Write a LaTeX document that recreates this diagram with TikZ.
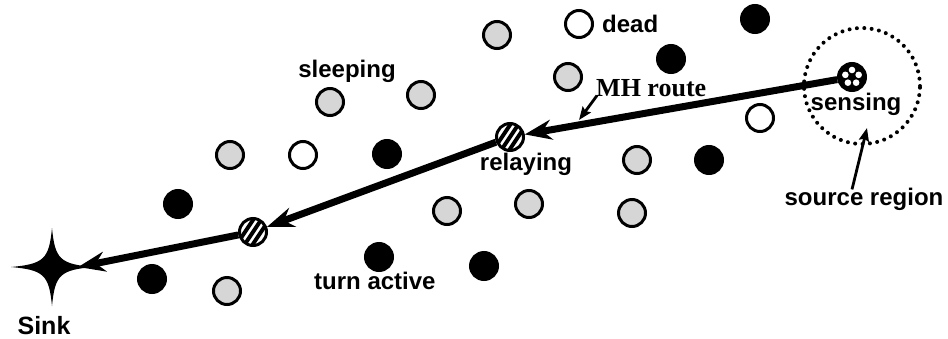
\documentclass[tikz,border=0pt]{standalone}
\usepackage{fontspec}
\setmainfont{Liberation Sans}
\newfontfamily\mhserif{Liberation Serif}
\usetikzlibrary{arrows.meta}
\begin{document}
\begin{tikzpicture}[x=1pt,y=-1pt,
  sensor/.style={circle,draw=black,line width=3pt,minimum size=27pt,inner sep=0pt},
  sleepnode/.style={sensor,fill=black!16},
  activenode/.style={sensor,fill=black},
  deadnode/.style={sensor,fill=white},
  relaynode/.style={sensor,fill=white,path picture={
      \foreach \d in {-8,0,8}
        \draw[line width=4pt,shift={(path picture bounding box.center)}]
          (\d-12,18) -- (\d+12,-18);}},
  sensenode/.style={sensor,fill=black,path picture={
      \foreach \a in {-90,-18,54,126,198}
        \fill[white,shift={(path picture bounding box.center)}] (\a:7) circle (3.3);}},
  lbl/.style={font=\bfseries\fontsize{24}{28}\selectfont,inner sep=0pt},
  route/.style={line width=7pt,-{Stealth[length=27pt,width=20pt,inset=9pt]}},
  pointer/.style={line width=2.8pt,-{Stealth[length=13pt,width=10pt,inset=2pt]}},
  region/.style={circle,draw=black,line width=4pt,dash pattern=on 0pt off 7.4pt,
      line cap=round,minimum size=116pt,inner sep=0pt}
]
\useasboundingbox (0,0) rectangle (948,338);

% source region around the sensing node
\node[region] (reg) at (862,86) {};

% sleeping nodes
\node[sleepnode] (s1) at (497,35) {};
\node[sleepnode] (s2) at (568,77) {};
\node[sleepnode] (s3) at (421,95) {};
\node[sleepnode] (s4) at (330,102) {};
\node[sleepnode] (s5) at (230,155) {};
\node[sleepnode] (s6) at (447,211) {};
\node[sleepnode] (s7) at (529,204) {};
\node[sleepnode] (s8) at (632,213) {};
\node[sleepnode] (s9) at (637,160) {};
\node[sleepnode] (s10) at (227,291) {};

% nodes turning active
\node[activenode] (a1) at (755,19) {};
\node[activenode] (a2) at (671,59) {};
\node[activenode] (a3) at (387,154) {};
\node[activenode] (a4) at (709,160) {};
\node[activenode] (a5) at (178,204) {};
\node[activenode] (a6) at (152,279) {};
\node[activenode] (a7) at (379,257) {};
\node[activenode] (a8) at (484,266) {};

% dead nodes
\node[deadnode] (d1) at (579,24) {};
\node[deadnode] (d2) at (303,155) {};
\node[deadnode] (d3) at (760,118) {};

% sensing and relaying nodes
\node[sensenode] (sense) at (852,77) {};
\node[relaynode] (relay1) at (510,137) {};
\node[relaynode] (relay2) at (253,232) {};

% sink
\node[minimum width=52pt,minimum height=4pt,inner sep=0pt] (sink) at (52,267) {};
\begin{scope}[shift={(sink.center)}]
  \fill (0,-39) .. controls (3,-8) and (8,-3) .. (41,0)
        .. controls (8,3) and (3,8) .. (0,39)
        .. controls (-3,8) and (-8,3) .. (-41,0)
        .. controls (-8,-3) and (-3,-8) .. (0,-39) -- cycle;
\end{scope}

% multi-hop route
\draw[route] (sense) -- (relay1);
\draw[route] (relay1) -- (relay2);
\draw[route] (relay2) -- (sink.east);

% labels
\node[lbl,anchor=base west] (deadlbl) at (602,32) {dead};
\node[lbl,anchor=base] (sleeplbl) at (347,77) {sleeping};
\node[font=\mhserif\bfseries\fontsize{26}{30}\selectfont,inner sep=0pt,anchor=base west] (mh) at (596,96) {MH route};
\node[lbl,anchor=base] (relaylbl) at (526,170) {relaying};
\node[lbl,anchor=base] (senselbl) at (856,110) {sensing};
\node[lbl,anchor=base] (srclbl) at (864,205) {source region};
\node[lbl,anchor=base west] (turnlbl) at (314,289) {turn active};
\node[font=\bfseries\fontsize{25}{29}\selectfont,inner sep=0pt,anchor=base] (sinklbl) at (44,334) {Sink};

% pointers from labels
\coordinate (mhtip) at (579,120);
\coordinate (regtip) at (867,128);
\draw[pointer] ([xshift=1pt,yshift=1pt]mh.south west) -- (mhtip);
\draw[pointer] ([xshift=-12pt,yshift=-2pt]srclbl.north) -- (regtip);
\end{tikzpicture}
\end{document}
